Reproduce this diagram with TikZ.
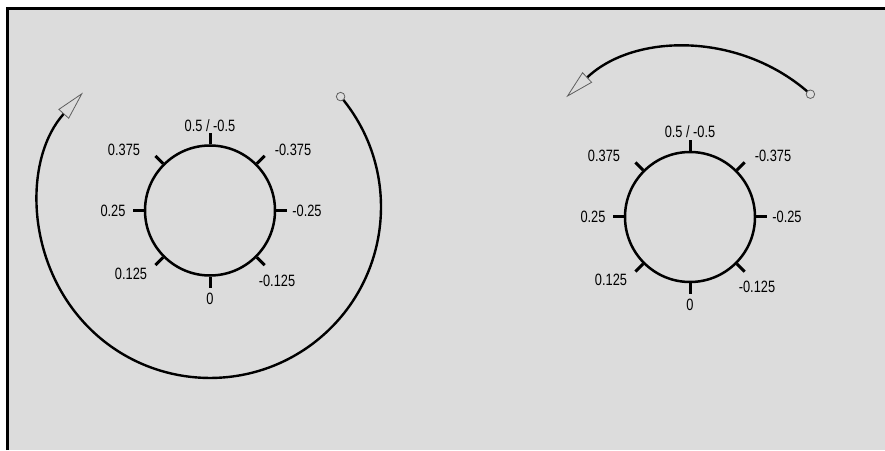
\documentclass[tikz,border=0pt]{standalone}
\usepackage{fontspec}
\setmainfont{Liberation Sans}
\usetikzlibrary{arrows.meta}
\definecolor{panel}{RGB}{220,220,220}
\definecolor{rim}{RGB}{95,95,95}
\newcommand{\tall}[1]{\scalebox{1}[1.28]{#1}}
\begin{document}
\begin{tikzpicture}[x=1pt, y=1pt,
    dial/.style={circle, draw, line width=2.5pt, minimum size=130pt, inner sep=0pt},
    dialtick/.style={line width=3pt},
    lbl/.style={font=\fontsize{12.8}{15}\selectfont, inner sep=0pt, text=black},
    turn/.style={line width=2.4pt, -{Triangle[open, length=29pt, width=14pt, line width=0.8pt, color=rim]}},
    pivot/.style={circle, draw=rim, fill=panel, line width=0.8pt, minimum size=8.5pt, inner sep=0pt}]
  \useasboundingbox (0,0) rectangle (885,450);
  \fill[white] (0,0) rectangle (885,450);
  \fill[panel] (7.5,0) rectangle (885,441);
  \draw[line width=3pt] (7.5,0) -- (7.5,441) -- (885,441);
  % the two dials
  \node[dial] (dialA) at (210,239.5) {};
  \node[dial] (dialB) at (690,233) {};
  \foreach \d in {dialA, dialB} {
    \foreach \a/\t/\dx/\dy [count=\i] in {90/{0.5 / -0.5}/0/85, 135/0.375/-86/61, 45/-0.375/83/61,
        180/0.25/-97/0, 0/-0.25/97/0, 225/0.125/-79/-63, 315/-0.125/67/-70, 270/0/0/-88} {
      \draw[dialtick] (\d.\a) -- ++(\a:11);
      \path (\d.center) ++(\dx,\dy) node[lbl] (\d-\i) {\tall{\t}};
    }
  }
  % turning arrows
  \coordinate (startA) at (340.6,353.4);
  \draw[turn] (startA) arc[start angle=40.2, end angle=-222, radius=171];
  \node[pivot] (pinA) at (startA) {};
  \coordinate (startB) at (810.4,355.8);
  \draw[turn] (startB) arc[start angle=48, end angle=133.4, radius=180];
  \node[pivot] (pinB) at (startB) {};
\end{tikzpicture}
\end{document}
